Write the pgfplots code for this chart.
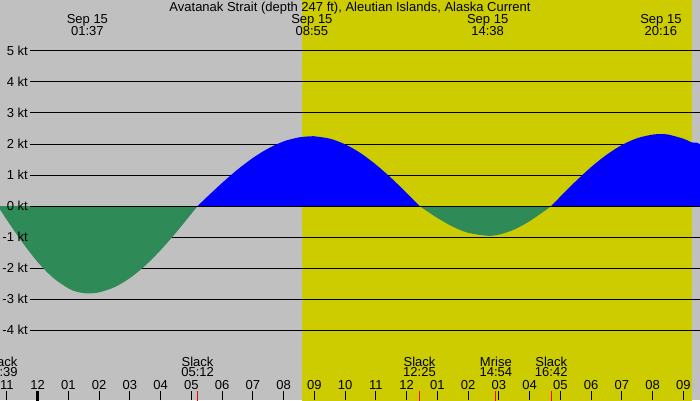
\documentclass[border=0pt]{standalone}
\usepackage{fontspec}
\setmainfont{Liberation Sans}
\usepackage{pgfplots}
\pgfplotsset{compat=1.18}
\definecolor{bggray}{RGB}{192,192,192}
\definecolor{dayyel}{RGB}{204,204,0}
\definecolor{ebbgreen}{RGB}{46,139,87}
\definecolor{floodblue}{RGB}{0,0,255}
\definecolor{tickred}{RGB}{255,0,0}
\begin{document}
\begin{tikzpicture}[font=\fontsize{13bp}{12bp}\selectfont]
\begin{axis}[
  width=700bp, height=400bp, scale only axis,
  xmin=-1.2248, xmax=21.538, ymin=-6.258, ymax=6.645,
  axis line style={draw=none},
  axis background/.style={fill=bggray},
  axis on top,
  ytick=\empty,
  xtick={-1,0,...,21},
  xticklabels={11,12,01,02,03,04,05,06,07,08,09,10,11,12,01,02,03,04,05,06,07,08,09},
  xtick pos=left,
  tick align=inside,
  major tick length=9bp,
  tick style={black, line width=1bp},
  xticklabel style={anchor=base, yshift=10.7bp, inner sep=0pt},
]
% daylight
\addplot[draw=none, fill=dayyel] coordinates {(8.595,-6.3) (8.595,6.7) (21.268,6.7) (21.268,-6.3)};
% grid lines
\addplot[black, line width=1bp] coordinates {(-0.25,5) (21.6,5)};
\addplot[black, line width=1bp] coordinates {(-0.25,4) (21.6,4)};
\addplot[black, line width=1bp] coordinates {(-0.25,3) (21.6,3)};
\addplot[black, line width=1bp] coordinates {(-0.25,2) (21.6,2)};
\addplot[black, line width=1bp] coordinates {(-0.25,1) (21.6,1)};
\addplot[black, line width=1bp] coordinates {(-0.25,-1) (21.6,-1)};
\addplot[black, line width=1bp] coordinates {(-0.25,-2) (21.6,-2)};
\addplot[black, line width=1bp] coordinates {(-0.25,-3) (21.6,-3)};
\addplot[black, line width=1bp] coordinates {(-0.25,-4) (21.6,-4)};
% ebb 1
\addplot[draw=none, fill=ebbgreen, smooth] coordinates {
(-1.3,0) (-1.0,-0.451) (-0.5,-1.170) (0,-1.807) (0.5,-2.314) (1.0,-2.658) (1.3,-2.775) (1.636,-2.82)
(2,-2.784) (2.5,-2.618) (3,-2.326) (3.5,-1.920) (4,-1.423) (4.5,-0.857) (5,-0.248) (5.2,0)};
% flood 1
\addplot[draw=none, fill=floodblue, smooth] coordinates {
(5.2,0) (5.5,0.285) (6,0.746) (6.5,1.175) (7,1.551) (7.5,1.858) (8,2.084) (8.5,2.215) (8.917,2.25)
(9,2.248) (9.5,2.173) (10,1.989) (10.5,1.706) (11,1.335) (11.5,0.900) (12,0.419) (12.417,0)};
% ebb 2
\addplot[draw=none, fill=ebbgreen, smooth] coordinates {
(12.417,0) (12.5,-0.057) (13,-0.386) (13.5,-0.667) (14,-0.865) (14.633,-0.96)
(15,-0.923) (15.5,-0.759) (16,-0.487) (16.5,-0.146) (16.7,0)};
% flood 2
\addplot[draw=none, fill=floodblue, smooth] coordinates {
(16.7,0) (17,0.306) (17.5,0.800) (18,1.257) (18.5,1.652) (19,1.968) (19.5,2.189) (20,2.304) (20.267,2.32)
(20.5,2.305) (21,2.17) (21.25,2.056) (21.6,1.85) (21.6,0)};
% zero line
\addplot[black, line width=1bp] coordinates {(-0.25,0) (21.6,0)};
% midnight tick
\addplot[black, line width=3bp] coordinates {(0,-5.968) (0,-6.3)};
% event ticks
\addplot[tickred, line width=1bp] coordinates {(5.2,-5.968) (5.2,-6.3)};
\addplot[tickred, line width=1bp] coordinates {(12.417,-5.968) (12.417,-6.3)};
\addplot[tickred, line width=1bp] coordinates {(14.9,-5.968) (14.9,-6.3)};
\addplot[tickred, line width=1bp] coordinates {(16.7,-5.968) (16.7,-6.3)};
% y labels
\node[anchor=east, inner sep=0pt] at (axis cs:-0.315,5) {5 kt};
\node[anchor=east, inner sep=0pt] at (axis cs:-0.315,4) {4 kt};
\node[anchor=east, inner sep=0pt] at (axis cs:-0.315,3) {3 kt};
\node[anchor=east, inner sep=0pt] at (axis cs:-0.315,2) {2 kt};
\node[anchor=east, inner sep=0pt] at (axis cs:-0.315,1) {1 kt};
\node[anchor=east, inner sep=0pt] at (axis cs:-0.315,0) {0 kt};
\node[anchor=east, inner sep=0pt] at (axis cs:-0.315,-1) {-1 kt};
\node[anchor=east, inner sep=0pt] at (axis cs:-0.315,-2) {-2 kt};
\node[anchor=east, inner sep=0pt] at (axis cs:-0.315,-3) {-3 kt};
\node[anchor=east, inner sep=0pt] at (axis cs:-0.315,-4) {-4 kt};
% title
\node[anchor=base, inner sep=0pt] at (axis cs:10.157,6.268) {Avatanak Strait (depth 247 ft), Aleutian Islands, Alaska Current};
% extremes
\node[anchor=base, inner sep=0pt] at (axis cs:1.617,5.871) {Sep 15};
\node[anchor=base, inner sep=0pt] at (axis cs:1.617,5.494) {01:37};
\node[anchor=base, inner sep=0pt] at (axis cs:8.917,5.871) {Sep 15};
\node[anchor=base, inner sep=0pt] at (axis cs:8.917,5.494) {08:55};
\node[anchor=base, inner sep=0pt] at (axis cs:14.633,5.871) {Sep 15};
\node[anchor=base, inner sep=0pt] at (axis cs:14.633,5.494) {14:38};
\node[anchor=base, inner sep=0pt] at (axis cs:20.267,5.871) {Sep 15};
\node[anchor=base, inner sep=0pt] at (axis cs:20.267,5.494) {20:16};
% events
\node[anchor=base, inner sep=0pt] at (axis cs:-1.18,-5.161) {Slack};
\node[anchor=base, inner sep=0pt] at (axis cs:-1.18,-5.506) {22:39};
\node[anchor=base, inner sep=0pt] at (axis cs:5.2,-5.161) {Slack};
\node[anchor=base, inner sep=0pt] at (axis cs:5.2,-5.506) {05:12};
\node[anchor=base, inner sep=0pt] at (axis cs:12.417,-5.161) {Slack};
\node[anchor=base, inner sep=0pt] at (axis cs:12.417,-5.506) {12:25};
\node[anchor=base, inner sep=0pt] at (axis cs:14.9,-5.161) {Mrise};
\node[anchor=base, inner sep=0pt] at (axis cs:14.9,-5.506) {14:54};
\node[anchor=base, inner sep=0pt] at (axis cs:16.7,-5.161) {Slack};
\node[anchor=base, inner sep=0pt] at (axis cs:16.7,-5.506) {16:42};
\coordinate (bl) at (rel axis cs:0,0);
\coordinate (tr) at (rel axis cs:1,1);
\end{axis}
\pgfresetboundingbox
\path[use as bounding box] (bl) rectangle (tr);
\end{tikzpicture}
\end{document}
